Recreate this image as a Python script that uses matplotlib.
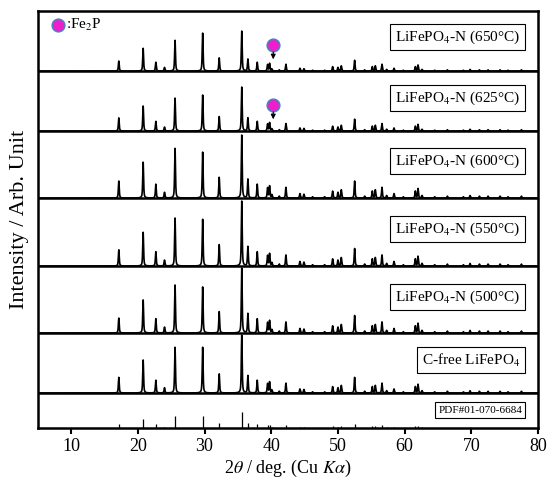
import numpy as np
import matplotlib
matplotlib.use("Agg")
import matplotlib.pyplot as plt

plt.rcParams['font.family'] = ['Liberation Serif', 'DejaVu Serif']
plt.rcParams['mathtext.fontset'] = 'stix'

# LiFePO4 reflections (2theta, deg) and relative intensities (%)
peak_pos = [17.15, 20.80, 22.70, 24.00, 25.58, 29.72, 32.20, 35.58, 36.50, 37.90,
            39.45, 39.75, 40.10, 41.20, 42.20, 44.30, 44.90, 46.20, 48.00, 49.20,
            50.00, 50.50, 52.50, 54.00, 55.15, 55.60, 56.60, 57.30, 58.40, 59.80,
            61.60, 62.00, 62.60, 64.50, 66.40, 68.80, 69.80, 71.20, 72.50, 74.30,
            75.50, 77.50]
peak_rel = [25, 55, 22, 9, 75, 75, 33, 100, 30, 22,
            16, 19, 5, 3, 17, 7, 6, 2, 2, 11,
            9, 13, 27, 3, 11, 13, 17, 4, 7, 2,
            11, 15, 4, 2, 3, 2, 4, 3, 3, 3,
            2, 3]

# per-sample: intensities of (17.15, 20.80, 25.58, 29.72) and height of the strongest peak
samples = ["LiFePO$_4$-N (650°C)", "LiFePO$_4$-N (625°C)", "LiFePO$_4$-N (600°C)",
           "LiFePO$_4$-N (550°C)", "LiFePO$_4$-N (500°C)", "C-free LiFePO$_4$"]
major_rel = [[25, 57, 77, 95],
             [30, 57, 75, 82],
             [27, 57, 79, 73],
             [25, 52, 74, 72],
             [23, 51, 74, 71],
             [27, 57, 79, 79]]
max_height = [40, 44, 63, 65, 65, 58]
fe2p_pos = 40.3
fe2p_samples = [0, 1]
pdf_label = "PDF#01-070-6684"

# layout (axes units ~ pixels, 0 at bottom)
baselines = [357, 297, 230, 162, 95, 35]
label_y = [391, 330, 267, 199, 131, 68]
pdf_height = 16
pdf_label_y = 18

fig = plt.figure(figsize=(5.47, 4.82), dpi=100)
ax = fig.add_axes([0.069, 0.112, 0.9147, 0.865])

x = np.arange(5, 80.001, 0.01)
w = 0.15
eta = 0.6


def profile(rel):
    y = np.zeros_like(x)
    for p, r in zip(peak_pos, rel):
        g = np.exp(-4 * np.log(2) * ((x - p) / w) ** 2)
        l = 1 / (1 + 4 * ((x - p) / w) ** 2)
        y += r / 100 * (eta * l + (1 - eta) * g)
    return y


major_idx = [0, 1, 4, 5]
for i, name in enumerate(samples):
    rel = list(peak_rel)
    for k, j in enumerate(major_idx):
        rel[j] = major_rel[i][k]
    y = profile(rel)
    y = y / y.max() * max_height[i]
    ax.plot(x, baselines[i] + y, color='black', lw=1.2)
    ax.axhline(baselines[i], color='black', lw=1.8)
    ax.text(77.3, label_y[i], name, ha='right', va='center', fontsize=11,
            bbox=dict(boxstyle='square,pad=0.3', fc='white', ec='black', lw=0.8))

# reference pattern sticks
pdf_h = [r / 100 * pdf_height for r in peak_rel]
ax.vlines(peak_pos, 0, pdf_h, color='black', lw=0.9)
ax.text(77.6, pdf_label_y, pdf_label, ha='right', va='center', fontsize=8,
        bbox=dict(boxstyle='square,pad=0.3', fc='white', ec='black', lw=0.8))

# Fe2P markers
for i in fe2p_samples:
    ytop = baselines[i] + 26
    ax.annotate('', xy=(fe2p_pos, baselines[i] + 9), xytext=(fe2p_pos, ytop - 4),
                arrowprops=dict(arrowstyle='-|>', color='black', lw=0.8, mutation_scale=7))
    ax.plot(fe2p_pos, ytop, 'o', ms=9, mfc='#ee1ecc', mec='#4f7fbf', mew=1.2)

ax.plot(8.0, 403, 'o', ms=9, mfc='#ee1ecc', mec='#4f7fbf', mew=1.2)
ax.text(9.2, 403, ':Fe$_2$P', ha='left', va='center', fontsize=11)

ax.set_xlim(5, 80)
ax.set_ylim(0, 417)
ax.set_xticks(range(10, 81, 10))
ax.set_yticks([])
ax.tick_params(axis='x', direction='out', length=4, width=1.5, labelsize=13)
for s in ax.spines.values():
    s.set_linewidth(1.8)
ax.set_xlabel(r'2$\theta$ / deg. (Cu $K\alpha$)', fontsize=13, labelpad=2)
ax.set_ylabel('Intensity / Arb. Unit', fontsize=16, labelpad=6)

fig.savefig('out.png', dpi=100)
